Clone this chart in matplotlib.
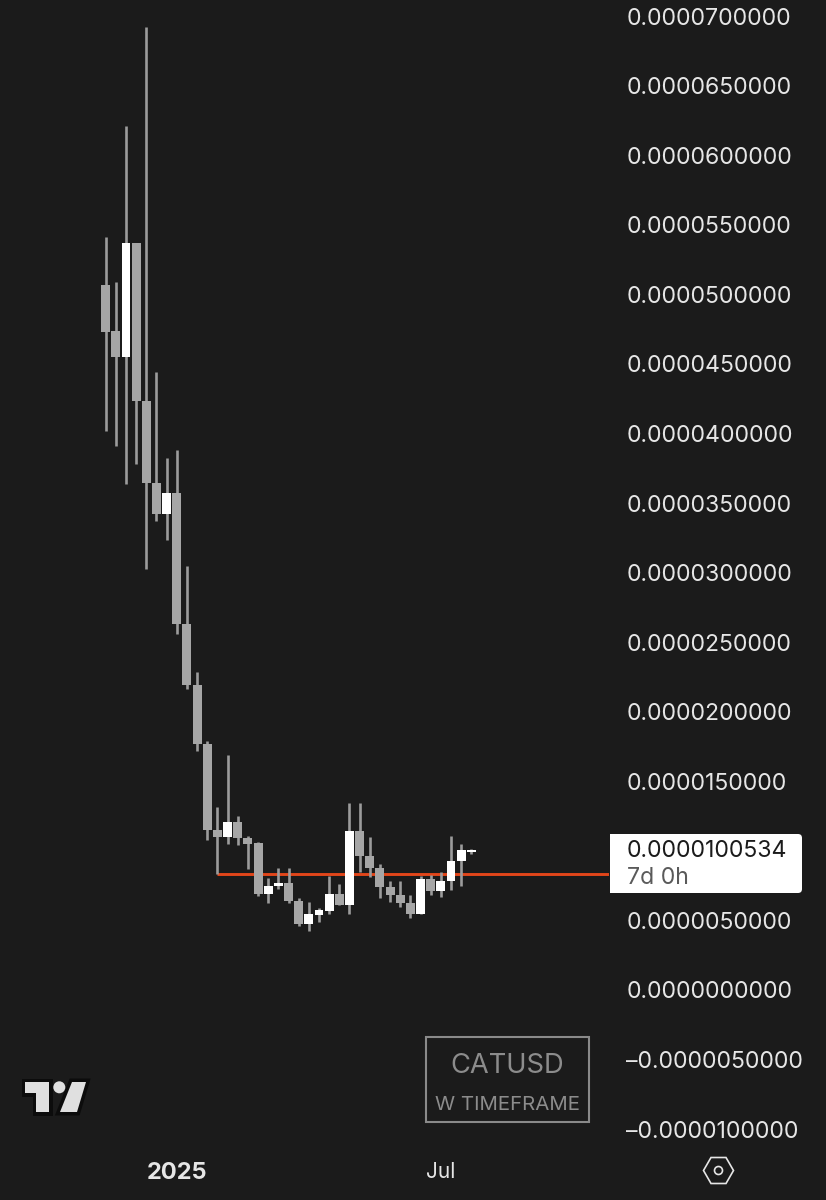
import numpy as np
import matplotlib
matplotlib.use("Agg")
import matplotlib.pyplot as plt
from matplotlib.patches import Polygon, Circle, Rectangle, FancyBboxPatch
from matplotlib.ticker import FuncFormatter
import matplotlib.patheffects as pe

# prices in millionths, weekly candles
opens = [50.67, 47.37, 45.52, 53.67, 42.31, 36.42, 34.19, 35.70, 26.31, 21.95,
         17.68, 11.50, 10.98, 12.10, 10.93, 10.59, 6.88, 7.45, 7.71, 6.42,
         4.72, 5.39, 5.68, 6.92, 6.09, 11.45, 9.65, 8.79, 7.38, 6.83,
         6.23, 5.44, 7.96, 7.09, 7.81, 9.25, 9.95]
closes = [47.32, 45.52, 53.67, 42.31, 36.42, 34.19, 35.70, 26.31, 21.95, 17.68,
          11.50, 10.98, 12.10, 10.93, 10.52, 6.88, 7.50, 7.71, 6.40, 4.72,
          5.46, 5.75, 6.92, 6.09, 11.45, 9.65, 8.79, 7.38, 6.83, 6.23,
          5.44, 7.96, 7.09, 7.86, 9.25, 10.06, 10.05]
highs = [54.15, 50.87, 62.10, 53.67, 69.24, 44.44, 38.26, 38.79, 30.48, 22.88,
         17.88, 13.13, 16.91, 12.51, 11.09, 10.65, 8.03, 8.75, 8.75, 6.59,
         6.35, 5.89, 8.19, 7.62, 13.42, 13.42, 11.02, 9.08, 7.86, 7.81,
         6.85, 8.19, 8.29, 8.46, 11.07, 10.52, 10.13]
lows = [40.20, 39.10, 36.35, 37.79, 30.28, 33.73, 32.35, 25.59, 21.66, 17.20,
        10.78, 8.34, 10.47, 10.42, 8.70, 6.74, 6.28, 7.28, 6.28, 4.62,
        4.22, 4.89, 5.48, 6.09, 5.48, 8.48, 8.14, 6.61, 6.33, 5.94,
        5.20, 5.44, 6.83, 6.68, 7.17, 7.48, 9.75]
price_ticks = np.arange(-10, 71, 5)
level_price = 8.34
level_start = 11
date_ticks = [7, 33]
date_labels = ["2025", "Jul"]
last_price = "0.0000100534"
countdown = "7d 0h"

BG = "#1b1b1b"
UP = "#ffffff"
DOWN = "#a6a6a6"
WICK = "#9c9c9c"
RED = "#e2461a"
FONT = "Inter"

plt.rcParams["font.family"] = [FONT, "DejaVu Sans"]

fig = plt.figure(figsize=(8.26, 12), dpi=100, facecolor=BG)
# main pane ends at x=609, y=1150 in pixels
ax = fig.add_axes([0, 50 / 1200, 609 / 826, 1150 / 1200], facecolor=BG)

x = np.arange(len(opens))
o = np.array(opens)
c = np.array(closes)
tops = np.maximum(o, c)
bots = np.minimum(o, c)
colors = [UP if b >= a else DOWN for a, b in zip(o, c)]

ax.hlines(level_price, level_start, 100, color=RED, lw=2.1, zorder=1)
ax.vlines(x, lows, highs, color=WICK, lw=1.9, zorder=2)
ax.bar(x, tops - bots, bottom=bots, width=0.88, color=colors, lw=0, zorder=3)

ax.set_xlim(-105.7 / 10.156, (609 - 105.7) / 10.156)
ax.set_ylim((990 - 1150) / 13.9125, 990 / 13.9125)

ax.yaxis.tick_right()
ax.set_yticks(price_ticks)
ax.yaxis.set_major_formatter(FuncFormatter(lambda v, _: f"{v * 1e-6:.10f}".replace("-", "\u2013")))
ax.tick_params(axis="y", length=0, pad=12.5, labelsize=16.6, labelcolor="#e6e6e6")
ax.set_xticks(date_ticks)
ax.set_xticklabels(date_labels)
ax.tick_params(axis="x", length=0, pad=8.5, labelsize=15, labelcolor="#e6e6e6")
ax.get_xticklabels()[0].set_fontweight("bold")
ax.get_xticklabels()[0].set_fontsize(17)
for s in ax.spines.values():
    s.set_visible(False)

# overlay in pixel coordinates for the tag, watermark and logo
ov = fig.add_axes([0, 0, 1, 1])
ov.set_xlim(0, 826)
ov.set_ylim(1200, 0)
ov.axis("off")

# price tag
ov.add_patch(FancyBboxPatch((614, 838), 184, 51, boxstyle="round,pad=4,rounding_size=4", fc="white", ec="none"))
ov.add_patch(Rectangle((610, 834), 20, 59, fc="white", ec="none"))
ov.text(627, 851, last_price, color="#1b1b1b", fontsize=16.6, va="center")
ov.text(627, 878, countdown, color="#5a5a5a", fontsize=16.6, va="center")

# watermark
ov.add_patch(Rectangle((426, 1037), 163, 84.5, fc="none", ec="#8a8a8a", lw=1.5))
ov.text(507.5, 1066, "CATUSD", color="#8c8c8c", fontsize=19.7, ha="center", va="center")
ov.text(507.5, 1104.5, "W TIMEFRAME", color="#8c8c8c", fontsize=14.7, ha="center", va="center")

# logo
halo = [pe.withStroke(linewidth=5, foreground="#0c0c0c")]
logo = "#e0e0e0"
ov.add_patch(Polygon([(24.5, 1082), (49, 1082), (49, 1112), (36, 1112), (36, 1093), (24.5, 1093)],
                     fc=logo, ec="none", path_effects=halo))
ov.add_patch(Polygon([(72, 1082), (86, 1082), (77, 1112), (60, 1112)], fc=logo, ec="none", path_effects=halo))
ov.add_patch(Circle((59.3, 1087.3), 6, fc=logo, ec="none"))

# settings icon
ov.add_patch(Polygon([(703.5, 1170.5), (711, 1157.5), (726, 1157.5), (733.5, 1170.5), (726, 1183.5), (711, 1183.5)],
                     fc="none", ec="#e6e6e6", lw=1.2))
ov.add_patch(Circle((718.5, 1170.5), 4, fc="none", ec="#e6e6e6", lw=1.2))

fig.savefig("out.png", dpi=100, facecolor=BG)
